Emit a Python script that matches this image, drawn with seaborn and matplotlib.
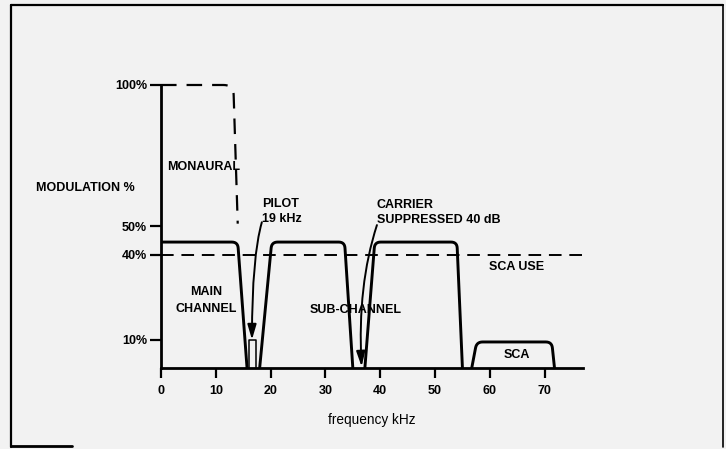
import numpy as np
import seaborn as sns
import matplotlib.pyplot as plt
from matplotlib.lines import Line2D

# FM STEREO BASEBAND SPECTRUM (kHz on x, modulation % on y)

# band outlines: base-left, top-left, top-right, base-right (kHz) and level (%)
band_base_left = [0.0, 18.0, 37.2, 56.7]
band_top_left = [0.0, 20.2, 39.0, 57.6]
band_top_right = [14.0, 33.5, 54.0, 71.3]
band_base_right = [15.7, 35.0, 55.0, 71.8]
band_level = [44.5, 44.5, 44.5, 9.2]

# pilot tone block
pilot_left = 16.0
pilot_right = 17.3
pilot_level = 10.0

# monaural envelope (dashed)
mono_x = [0.0, 13.2, 14.0]
mono_y = [100.0, 100.0, 51.0]

# SCA use level (dashed)
sca_use_level = 40.0
sca_use_end = 77.7

# arrows: (start) -> (tip)
pilot_arrow_from = (18.4, 51.5)
pilot_arrow_to = (16.6, 10.0)
carrier_arrow_from = (39.4, 50.5)
carrier_arrow_to = (36.6, 0.5)

x_ticks = [0, 10, 20, 30, 40, 50, 60, 70]
y_ticks = [10, 40, 50, 100]
y_tick_labels = ['10%', '40%', '50%', '100%']

# pixels per data unit, used to round the band corners evenly
SX, SY = 5.486, 2.83


def rounded(xs, ys, r=5, n=8):
    px = np.array(xs, dtype=float) * SX
    py = np.array(ys, dtype=float) * SY
    out = [(px[0], py[0])]
    for i in range(1, len(px) - 1):
        p0 = np.array([px[i - 1], py[i - 1]])
        p1 = np.array([px[i], py[i]])
        p2 = np.array([px[i + 1], py[i + 1]])
        l0 = np.linalg.norm(p0 - p1)
        l2 = np.linalg.norm(p2 - p1)
        rr = min(r, l0 / 2, l2 / 2)
        a = p1 + (p0 - p1) / l0 * rr
        b = p1 + (p2 - p1) / l2 * rr
        for t in np.linspace(0, 1, n):
            q = (1 - t) ** 2 * a + 2 * (1 - t) * t * p1 + t ** 2 * b
            out.append((q[0], q[1]))
    out.append((px[-1], py[-1]))
    out = np.array(out)
    return out[:, 0] / SX, out[:, 1] / SY


sns.set_theme(style='white')
plt.rcParams['font.family'] = ['Liberation Sans', 'DejaVu Sans']
BG = '#f2f2f2'
FS = 9

fig = plt.figure(figsize=(7.26, 4.49), dpi=100, facecolor=BG)
ax = fig.add_axes([161 / 726, 0.1804, (583 - 161) / 726, 0.6303])
ax.set_facecolor(BG)

# bands
for bl, tl, tr, br, lv in zip(band_base_left, band_top_left, band_top_right,
                              band_base_right, band_level):
    xs = [bl, tl, tr, br]
    ys = [0, lv, lv, 0]
    if bl == tl:
        xs, ys = xs[1:], ys[1:]
    rx, ry = rounded(xs, ys, r=6)
    sns.lineplot(x=rx, y=ry, sort=False, estimator=None, color='black',
                 lw=2.1, ax=ax)

# pilot block
sns.lineplot(x=[pilot_left, pilot_left, pilot_right, pilot_right],
             y=[0, pilot_level, pilot_level, 0], sort=False, estimator=None,
             color='black', lw=1.1, ax=ax)

# monaural envelope
mx, my = rounded(mono_x, mono_y, r=10, n=12)
ax.plot(mx, my, color='black', lw=1.6, dashes=(7, 4.5), clip_on=False)

# SCA use line
ax.plot([0, sca_use_end], [sca_use_level, sca_use_level], color='black',
        lw=1.4, dashes=(6.5, 4), clip_on=False)

head = '-|>,head_length=0.75,head_width=0.22'
ax.annotate('', xy=pilot_arrow_to, xytext=pilot_arrow_from,
            arrowprops=dict(arrowstyle=head, color='black', lw=1.4,
                            connectionstyle='angle3,angleA=74,angleB=90',
                            shrinkA=0, shrinkB=0))
ax.annotate('', xy=carrier_arrow_to, xytext=carrier_arrow_from,
            arrowprops=dict(arrowstyle=head, color='black', lw=1.4,
                            connectionstyle='angle3,angleA=72,angleB=93',
                            shrinkA=0, shrinkB=0))

# labels inside the plot
tk = dict(fontsize=FS, fontweight='bold', color='black')
ax.text(1.1, 71, 'MONAURAL', ha='left', va='center', **tk)
ax.text(8.2, 23.7, 'MAIN\nCHANNEL', ha='center', va='center',
        linespacing=1.55, **tk)
ax.text(18.4, 55.3, 'PILOT\n19 kHz', ha='left', va='center',
        linespacing=1.4, **tk)
ax.text(39.4, 54.8, 'CARRIER\nSUPPRESSED 40 dB', ha='left', va='center',
        linespacing=1.35, **tk)
ax.text(35.5, 20.5, 'SUB-CHANNEL', ha='center', va='center', **tk)
ax.text(64.9, 35.7, 'SCA USE', ha='center', va='center', **tk)
ax.text(64.9, 4.6, 'SCA', ha='center', va='center', **tk)

# axes
ax.set_xlim(0, 77)
ax.set_ylim(0, 100)
ax.set_xticks(x_ticks)
ax.set_xticklabels([str(v) for v in x_ticks], fontsize=FS, fontweight='bold')
ax.set_yticks(y_ticks)
ax.set_yticklabels(y_tick_labels, fontsize=FS, fontweight='bold')
ax.tick_params(axis='x', direction='out', length=7, width=1.6, pad=5,
               bottom=True, colors='black')
ax.tick_params(axis='y', direction='out', length=8, width=1.6, pad=2,
               left=True, colors='black')
for s in ['top', 'right']:
    ax.spines[s].set_visible(False)
for s in ['left', 'bottom']:
    ax.spines[s].set_color('black')
    ax.spines[s].set_linewidth(2.0)
ax.set_xlabel('frequency kHz', fontsize=9.8, labelpad=12, color='black')

fig.text(36 / 726, 1 - 188 / 449, 'MODULATION %', ha='left', va='center', **tk)

# page frame
fl, fr, ft, fb = 11 / 726, 723 / 726, 1 - 5 / 449, 1 - 447 / 449
fig.add_artist(Line2D([fl, fl], [fb, ft], color='black', lw=1.6))
fig.add_artist(Line2D([fl, fr], [ft, ft], color='black', lw=1.6))
fig.add_artist(Line2D([fr, fr], [fb, ft], color='black', lw=1.2))
fig.add_artist(Line2D([fl, 72 / 726], [fb + 0.002, fb + 0.002], color='black',
                      lw=2.0))

fig.savefig('out.png', dpi=100, facecolor=BG)
